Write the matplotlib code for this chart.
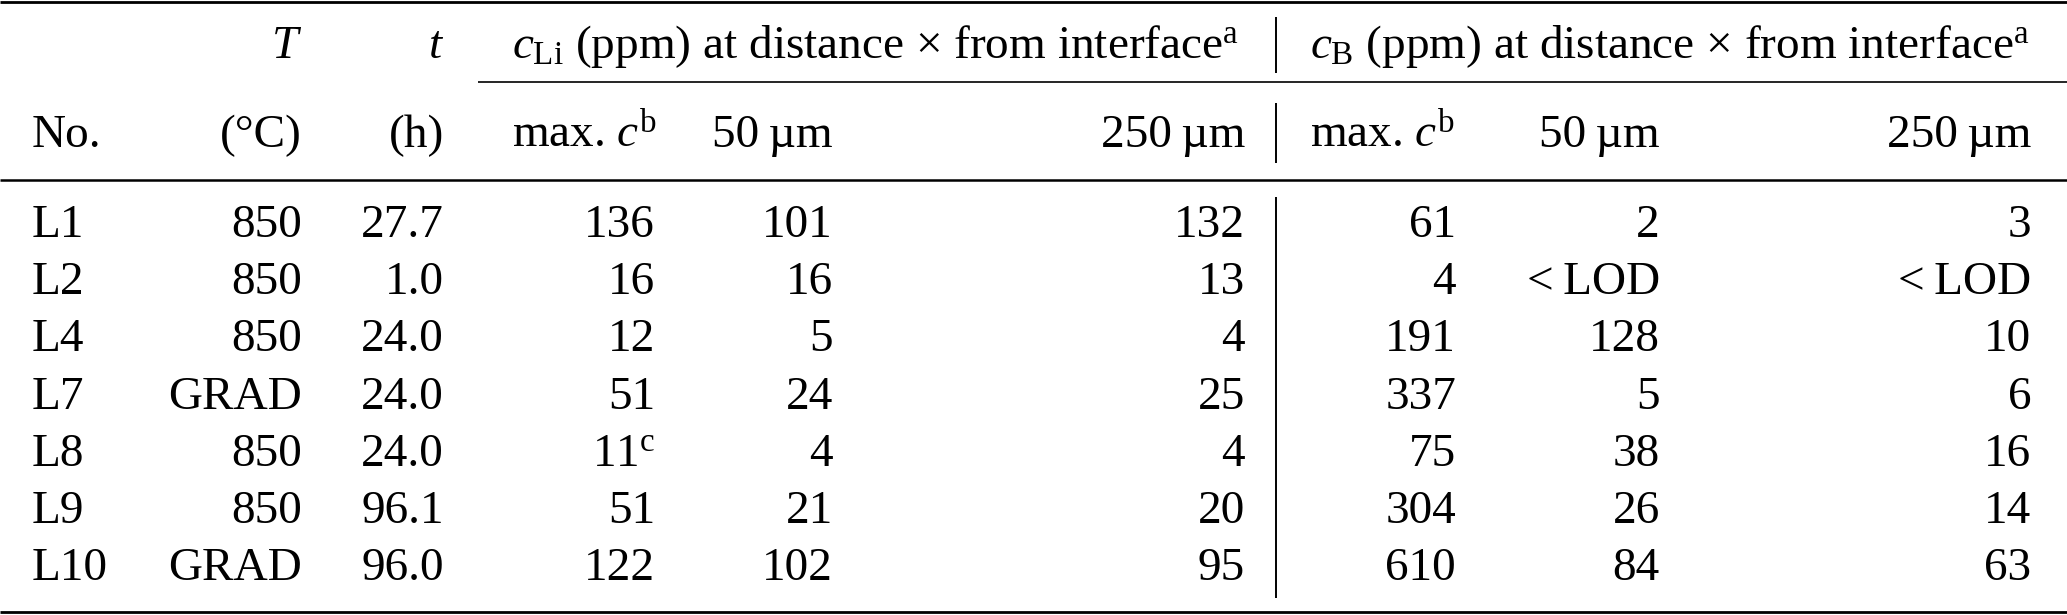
import matplotlib
matplotlib.use('Agg')
import matplotlib.pyplot as plt

plt.rcParams['font.family'] = ['Liberation Serif', 'DejaVu Serif']
plt.rcParams['mathtext.fontset'] = 'custom'
plt.rcParams['mathtext.rm'] = 'Liberation Serif'
plt.rcParams['mathtext.it'] = 'Liberation Serif:italic'

# Tabellendaten (None = unter Nachweisgrenze)
sample_no = ['L1', 'L2', 'L4', 'L7', 'L8', 'L9', 'L10']
temperature = ['850', '850', '850', 'GRAD', '850', '850', 'GRAD']
duration_h = [27.7, 1.0, 24.0, 24.0, 24.0, 96.1, 96.0]
li_max = [136, 16, 12, 51, 11, 51, 122]
li_50 = [101, 16, 5, 24, 4, 21, 102]
li_250 = [132, 13, 4, 25, 4, 20, 95]
b_max = [61, 4, 191, 337, 75, 304, 610]
b_50 = [2, None, 128, 5, 38, 26, 84]
b_250 = [3, None, 10, 6, 16, 14, 63]
li_max_notes = {'L8': 'c'}

group_titles = ['$c_{\\mathrm{Li}}$ (ppm) at distance × from interface$^{\\mathrm{a}}$',
                '$c_{\\mathrm{B}}$ (ppm) at distance × from interface$^{\\mathrm{a}}$']
sub_header = ['max. $c^{\\mathrm{b}}$', '50\u2009µm', '250\u2009µm']


def fmt(v):
    return '<\u2009LOD' if v is None else str(v)


W, H = 2067, 615
fs = 34

fig = plt.figure(figsize=(W / 100, H / 100), dpi=100)
ax = fig.add_axes([0, 0, 1, 1])
ax.set_xlim(0, W)
ax.set_ylim(H, 0)
ax.axis('off')

# Spaltenpositionen (rechte Kanten), Zeilen-Grundlinien
x_no = 32
x_cols = [302, 444, 655, 833, 1245, 1456, 1660, 2031]
x_group = [512, 1310]
x_vline = 1276
y_head1 = 58
y_head2 = 147
y_row0 = 237
row_step = 57.2

# Linien
ax.plot([0, W], [1.5, 1.5], color='black', lw=2.0, solid_capstyle='butt')
ax.plot([478, W], [82, 82], color='black', lw=1.2, solid_capstyle='butt')
ax.plot([0, W], [180, 180], color='black', lw=1.8, solid_capstyle='butt')
ax.plot([0, W], [612, 612], color='black', lw=2.0, solid_capstyle='butt')
for y0, y1 in [(17, 73), (103, 163), (197, 598)]:
    ax.plot([x_vline, x_vline], [y0, y1], color='black', lw=1.4, solid_capstyle='butt')

# Kopfzeile 1
ax.text(x_cols[0], y_head1, '$T$', fontsize=fs, ha='right', va='baseline')
ax.text(x_cols[1], y_head1, '$t$', fontsize=fs, ha='right', va='baseline')
for x, title in zip(x_group, group_titles):
    ax.text(x, y_head1, title, fontsize=fs, ha='left', va='baseline')

# Kopfzeile 2
ax.text(x_no, y_head2, 'No.', fontsize=fs, ha='left', va='baseline')
ax.text(x_cols[0], y_head2, '(°C)', fontsize=fs, ha='right', va='baseline')
ax.text(x_cols[1], y_head2, '(h)', fontsize=fs, ha='right', va='baseline')
for g in range(2):
    ax.text(x_group[g], y_head2, sub_header[0], fontsize=fs, ha='left', va='baseline')
    for i in (1, 2):
        ax.text(x_cols[2 + 3 * g + i], y_head2, sub_header[i], fontsize=fs,
                ha='right', va='baseline')

# Datenzeilen
for r, no in enumerate(sample_no):
    y = y_row0 + r * row_step
    ax.text(x_no, y, no, fontsize=fs, ha='left', va='baseline')
    mx = str(li_max[r])
    if no in li_max_notes:
        mx += '$^{\\mathrm{%s}}$' % li_max_notes[no]
    cells = [temperature[r], f'{duration_h[r]:.1f}', mx, fmt(li_50[r]), fmt(li_250[r]),
             fmt(b_max[r]), fmt(b_50[r]), fmt(b_250[r])]
    for x, s in zip(x_cols, cells):
        ax.text(x, y, s, fontsize=fs, ha='right', va='baseline')

fig.savefig('out.png', dpi=100)
